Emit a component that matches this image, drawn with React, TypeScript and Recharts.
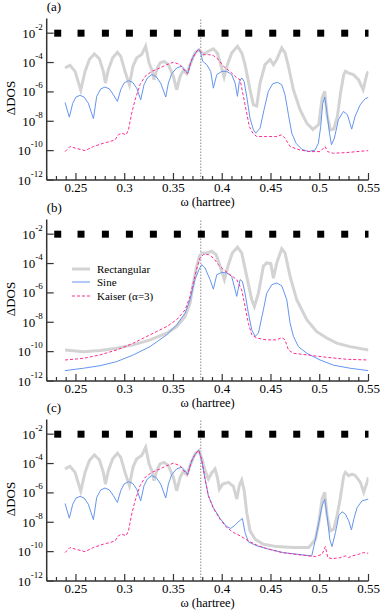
import React from "react"
import { ComposedChart, Line, Scatter, XAxis, YAxis, ReferenceLine, Legend } from "recharts"

type Pt = [number, number]

const X_TICKS = [
  0.22, 0.23, 0.24, 0.25, 0.26, 0.27, 0.28, 0.29, 0.3, 0.31, 0.32, 0.33, 0.34, 0.35, 0.36, 0.37, 0.38,
  0.39, 0.4, 0.41, 0.42, 0.43, 0.44, 0.45, 0.46, 0.47, 0.48, 0.49, 0.5, 0.51, 0.52, 0.53, 0.54, 0.55,
]
const Y_TICKS = [1e-12, 1e-10, 1e-8, 1e-6, 1e-4, 1e-2]
const X_DOMAIN = [0.22, 0.55]
const Y_DOMAIN = [1e-12, 1e-1]

// black squares along the top (sampling frequencies) and the dotted resonance line
const MARK_X = [0.2313, 0.2552, 0.2802, 0.3048, 0.3294, 0.354, 0.3786, 0.4029, 0.4272, 0.4518, 0.4764, 0.501, 0.5256, 0.55]
const MARK_LEVEL = 1e-2
const RESONANCE = 0.378

// left halves are the same in (a) and (c)
const RECT_LEFT: Pt[] = [
  [0.2388, 4.3e-5], [0.2439, 6.5e-5], [0.2491, 2.5e-5], [0.2549, 1.3e-6], [0.2593, 2.5e-5], [0.2638, 1.6e-4],
  [0.2689, 3.9e-4], [0.274, 1.8e-4], [0.2781, 2.5e-5], [0.2802, 4.0e-6], [0.2832, 3.3e-5], [0.2877, 2.1e-4],
  [0.2925, 5.0e-4], [0.2959, 2.7e-4], [0.3003, 2.5e-5], [0.3048, 3.1e-6], [0.3085, 5.6e-5], [0.3123, 2.1e-4],
  [0.3174, 3.5e-4], [0.3215, 1.3e-3], [0.325, 9.4e-5], [0.3277, 3.3e-5], [0.3301, 6.8e-6], [0.3328, 3.3e-5],
  [0.3362, 9.4e-5], [0.3403, 1.2e-4], [0.3448, 7.2e-5], [0.3499, 1.15e-5], [0.3533, 1.4e-6], [0.3568, 1.15e-5],
  [0.3602, 3.0e-5], [0.3636, 1.75e-5], [0.367, 7.2e-5], [0.3721, 4.5e-4], [0.3762, 7.7e-4],
]
const SINE_LEFT: Pt[] = [
  [0.2388, 1.9e-7], [0.2432, 1.9e-8], [0.2467, 1.7e-7], [0.2501, 4.5e-7], [0.2542, 5.8e-7], [0.2583, 4.5e-7],
  [0.2627, 1.7e-7], [0.2679, 1.5e-8], [0.2713, 5.0e-7], [0.2754, 1.6e-6], [0.2798, 2.15e-6], [0.2843, 1.6e-6],
  [0.2884, 6.4e-7], [0.2925, 2.25e-7], [0.2959, 1.4e-6], [0.2993, 4.0e-6], [0.3038, 5.8e-6], [0.3082, 4.5e-6],
  [0.3123, 1.8e-6], [0.3164, 2.9e-7], [0.3198, 3.1e-6], [0.3232, 8.9e-6], [0.3277, 1.5e-5], [0.3321, 1.15e-5],
  [0.3369, 4.0e-6], [0.3421, 4.5e-7], [0.3448, 4.0e-6], [0.3482, 1.75e-5], [0.3533, 4.3e-5], [0.3585, 5.6e-5],
  [0.3619, 3.3e-5], [0.3646, 1.75e-5], [0.367, 7.2e-5], [0.3704, 2.7e-4], [0.3738, 5.9e-4], [0.3762, 7.7e-4],
]
const KAISER_LEFT: Pt[] = [
  [0.2388, 8.6e-11], [0.2439, 1.9e-10], [0.2491, 1.5e-10], [0.2593, 1.0e-10], [0.2679, 1.9e-10], [0.2781, 3.2e-10],
  [0.285, 4.2e-10], [0.2901, 5.4e-10], [0.2935, 1.2e-9], [0.2969, 1.55e-9], [0.3014, 1.2e-9], [0.3038, 2.6e-9],
  [0.3072, 3.6e-8], [0.3106, 2.9e-7], [0.3157, 3.1e-6], [0.3209, 1.15e-5], [0.3277, 2.5e-5], [0.3362, 4.3e-5],
  [0.3431, 7.2e-5], [0.3499, 1.05e-4], [0.3568, 7.2e-5], [0.3619, 2.5e-5], [0.3646, 1.75e-5], [0.3687, 1.6e-4],
  [0.3738, 5.9e-4], [0.3762, 7.7e-4],
]

// (a) right halves
const RECT_RIGHT_A: Pt[] = [
  [0.3807, 3.5e-4], [0.3858, 5.9e-4], [0.3909, 8.5e-4], [0.395, 4.5e-4], [0.3985, 7.2e-5], [0.4019, 1.0e-5],
  [0.4053, 7.2e-5], [0.4097, 4.5e-4], [0.4156, 1.3e-3], [0.42, 4.5e-4], [0.4234, 7.2e-5], [0.4258, 1.15e-5],
  [0.4285, 1.4e-6], [0.432, 1.3e-7], [0.4354, 1.1e-7], [0.4388, 4.0e-6], [0.4439, 7.2e-5], [0.4491, 1.6e-4],
  [0.4525, 7.2e-5], [0.4559, 1.6e-4], [0.461, 1.0e-3], [0.4644, 4.5e-4], [0.4679, 5.6e-5], [0.473, 1.4e-6],
  [0.4798, 6.1e-8], [0.4867, 7.4e-9], [0.493, 2.8e-9], [0.499, 6.0e-9], [0.5024, 3.8e-7], [0.5051, 1.1e-6],
  [0.5075, 2.8e-8], [0.5109, 2.6e-9], [0.5144, 3.0e-9], [0.5181, 2.1e-8], [0.5215, 1.0e-6], [0.5246, 1.5e-5],
  [0.5263, 2.5e-5], [0.5297, 1.9e-5], [0.5345, 1.5e-5], [0.5397, 6.8e-6], [0.5445, 1.4e-6], [0.5482, 1.5e-5],
  [0.5499, 2.5e-5],
]
const SINE_RIGHT_A: Pt[] = [
  [0.3779, 4.5e-4], [0.38, 1.2e-4], [0.3841, 7.2e-5], [0.3882, 2.5e-5], [0.3909, 1.8e-6], [0.3944, 1.5e-5],
  [0.3995, 2.5e-5], [0.4046, 2.5e-5], [0.4097, 1.5e-5], [0.4132, 4.0e-6], [0.4156, 5.0e-7], [0.4176, 5.2e-6],
  [0.42, 8.9e-6], [0.4224, 5.2e-6], [0.4251, 5.0e-7], [0.4285, 1.6e-8], [0.432, 2.6e-9], [0.4344, 1.55e-9],
  [0.4388, 3.4e-9], [0.4429, 6.1e-8], [0.4473, 1.1e-6], [0.4518, 3.6e-6], [0.4566, 4.5e-6], [0.461, 3.1e-6],
  [0.4644, 6.4e-7], [0.4679, 2.8e-8], [0.4713, 1.55e-9], [0.4757, 3.2e-10], [0.4815, 1.25e-10], [0.4884, 8.6e-11],
  [0.4952, 1.1e-10], [0.4986, 3.2e-10], [0.501, 4.4e-9], [0.5031, 1.7e-7], [0.5051, 4.5e-7], [0.507, 6.1e-8],
  [0.51, 1.55e-9], [0.512, 2.5e-10], [0.515, 7.0e-10], [0.5191, 1.26e-8], [0.5243, 4.7e-8], [0.5284, 2.8e-8],
  [0.5328, 2.9e-9], [0.5362, 2.1e-8], [0.5414, 1.3e-7], [0.5465, 3.4e-7], [0.5499, 4.2e-7],
]
const KAISER_RIGHT_A: Pt[] = [
  [0.3807, 3.5e-4], [0.3858, 3.5e-4], [0.3909, 3.0e-4], [0.3961, 1.6e-4], [0.4012, 5.6e-5], [0.408, 2.5e-5],
  [0.4149, 8.9e-6], [0.4183, 6.8e-6], [0.4217, 5.0e-7], [0.4251, 3.6e-8], [0.4278, 4.4e-9], [0.4313, 1.55e-9],
  [0.4354, 9.1e-10], [0.4456, 9.1e-10], [0.4559, 9.1e-10], [0.461, 1.2e-9], [0.4644, 7.0e-10], [0.4696, 1.9e-10],
  [0.4798, 1.1e-10], [0.4901, 8.6e-11], [0.5003, 8.6e-11], [0.5055, 1.9e-10], [0.508, 8.6e-11], [0.514, 6.6e-11],
  [0.5277, 7.4e-11], [0.5379, 8.6e-11], [0.5499, 1.0e-10],
]

// (b)
const RECT_B: Pt[] = [
  [0.2388, 1.3e-10], [0.2576, 1.0e-10], [0.2747, 1.2e-10], [0.2918, 1.7e-10], [0.3089, 2.9e-10], [0.326, 6.3e-10],
  [0.3431, 1.8e-9], [0.3533, 5.1e-9], [0.3619, 2.5e-8], [0.367, 2.0e-7], [0.3704, 4.7e-6], [0.3738, 6.5e-5],
  [0.3766, 3.1e-4], [0.379, 5.3e-4], [0.3841, 5.3e-4], [0.3892, 6.9e-4], [0.3937, 4.1e-4], [0.3978, 6.5e-5],
  [0.4022, 8.0e-6], [0.4063, 8.4e-5], [0.4104, 5.3e-4], [0.4156, 1.3e-3], [0.42, 5.3e-4], [0.4251, 1.35e-5],
  [0.4303, 3.4e-7], [0.433, 1.2e-7], [0.4371, 9.4e-7], [0.4422, 6.5e-5], [0.4456, 1.1e-4], [0.4498, 9.9e-5],
  [0.4525, 1.0e-5], [0.4559, 1.1e-4], [0.461, 1.0e-3], [0.4644, 5.3e-4], [0.4696, 1.35e-5], [0.4764, 3.4e-7],
  [0.4867, 1.5e-8], [0.4969, 2.3e-9], [0.5072, 8.4e-10], [0.5174, 3.8e-10], [0.5311, 2.2e-10], [0.5499, 1.3e-10],
]
const SINE_B: Pt[] = [
  [0.2388, 5.1e-12], [0.2576, 7.4e-12], [0.2747, 1.1e-11], [0.2918, 2.1e-11], [0.3089, 6.0e-11], [0.326, 2.2e-10],
  [0.3431, 1.4e-9], [0.3533, 6.7e-9], [0.3619, 4.2e-8], [0.367, 3.4e-7], [0.3721, 8.0e-6], [0.3762, 3.9e-5],
  [0.379, 8.5e-5], [0.3824, 5.0e-5], [0.3875, 8.0e-6], [0.3909, 1.8e-6], [0.3944, 1.75e-5], [0.3995, 2.5e-5],
  [0.4046, 2.3e-5], [0.4097, 1.35e-5], [0.4149, 5.8e-7], [0.4183, 8.0e-6], [0.4207, 6.1e-6], [0.4234, 9.4e-7],
  [0.4268, 4.2e-8], [0.4303, 3.0e-9], [0.4337, 1.1e-9], [0.4371, 1.8e-9], [0.4422, 7.0e-8], [0.4456, 9.4e-7],
  [0.4508, 3.6e-6], [0.4559, 4.7e-6], [0.461, 3.1e-6], [0.4662, 3.4e-7], [0.4696, 8.6e-9], [0.473, 1.1e-9],
  [0.4781, 2.2e-10], [0.4867, 7.7e-11], [0.5003, 2.7e-11], [0.514, 1.2e-11], [0.5311, 7.4e-12], [0.5499, 5.1e-12],
]
const KAISER_B: Pt[] = [
  [0.2388, 2.7e-11], [0.2576, 3.5e-11], [0.2747, 6.0e-11], [0.2918, 1.3e-10], [0.3089, 3.8e-10], [0.326, 1.4e-9],
  [0.3431, 5.1e-9], [0.3533, 1.5e-8], [0.3619, 7.0e-8], [0.367, 5.8e-7], [0.3711, 8.0e-6], [0.3745, 6.5e-5],
  [0.3773, 2.4e-4], [0.3807, 4.1e-4], [0.3858, 4.1e-4], [0.3909, 2.4e-4], [0.3961, 8.4e-5], [0.4012, 3.9e-5],
  [0.408, 1.75e-5], [0.4115, 1.2e-5], [0.4149, 8.0e-6], [0.42, 1.6e-6], [0.4234, 1.2e-7], [0.4268, 8.6e-9],
  [0.4303, 1.4e-9], [0.4354, 8.4e-10], [0.4456, 6.3e-10], [0.4559, 6.3e-10], [0.461, 9.1e-10], [0.4644, 6.3e-10],
  [0.4679, 1.3e-10], [0.473, 7.7e-11], [0.4867, 6.0e-11], [0.5072, 4.1e-11], [0.5277, 3.0e-11], [0.5499, 2.7e-11],
]

// (c) right halves
const RECT_RIGHT_C: Pt[] = [
  [0.379, 2.3e-4], [0.3824, 3.3e-5], [0.3858, 8.9e-6], [0.3892, 2.3e-5], [0.3926, 4.3e-5], [0.395, 1.15e-5],
  [0.3971, 1.8e-6], [0.4005, 4.0e-6], [0.4063, 5.2e-6], [0.4115, 2.8e-6], [0.4149, 3.8e-7], [0.4176, 3.4e-6],
  [0.42, 7.5e-6], [0.4224, 1.6e-6], [0.4251, 4.7e-8], [0.4285, 2.6e-9], [0.4337, 7.0e-10], [0.4422, 3.2e-10],
  [0.4559, 2.2e-10], [0.473, 1.9e-10], [0.4887, 1.9e-10], [0.4956, 7.0e-10], [0.499, 9.4e-9], [0.5024, 3.8e-7],
  [0.5051, 1.1e-6], [0.5075, 2.8e-8], [0.5109, 2.6e-9], [0.5144, 3.4e-9], [0.5178, 2.8e-8], [0.5212, 5.0e-7],
  [0.5246, 1.5e-5], [0.5263, 2.5e-5], [0.5297, 1.5e-5], [0.5332, 1.9e-5], [0.5366, 1.5e-5], [0.5417, 5.2e-6],
  [0.5451, 1.1e-6], [0.5485, 5.2e-6], [0.5499, 1.15e-5],
]
const SINE_RIGHT_C: Pt[] = [
  [0.379, 1.6e-4], [0.3824, 8.9e-6], [0.3858, 6.4e-7], [0.3909, 1.0e-7], [0.3978, 1.8e-8], [0.4046, 5.1e-9],
  [0.4087, 3.8e-9], [0.4132, 6.4e-9], [0.4176, 1.26e-8], [0.4207, 1.8e-8], [0.4234, 2.0e-9], [0.4268, 4.6e-10],
  [0.4354, 2.5e-10], [0.4456, 1.6e-10], [0.4627, 8.6e-11], [0.4798, 6.3e-11], [0.4918, 5.1e-11], [0.4956, 7.0e-10],
  [0.499, 9.4e-9], [0.5024, 1.3e-7], [0.5051, 3.8e-7], [0.5075, 2.8e-8], [0.5103, 7.0e-10], [0.5126, 2.2e-10],
  [0.5161, 2.0e-9], [0.5195, 2.8e-8], [0.5229, 5.2e-8], [0.5263, 3.6e-8], [0.5297, 1.26e-8], [0.5325, 3.0e-9],
  [0.5349, 1.6e-8], [0.5383, 1.0e-7], [0.5434, 2.9e-7], [0.5499, 3.8e-7],
]
const KAISER_RIGHT_C: Pt[] = [
  [0.379, 1.6e-4], [0.3824, 8.9e-6], [0.3858, 6.4e-7], [0.3909, 8.8e-8], [0.3978, 1.6e-8], [0.4046, 4.4e-9],
  [0.4115, 2.0e-9], [0.4183, 1.2e-9], [0.4268, 5.4e-10], [0.4354, 2.8e-10], [0.4456, 1.6e-10], [0.4614, 8.6e-11],
  [0.4798, 6.0e-11], [0.4956, 4.6e-11], [0.5024, 6.6e-11], [0.5058, 2.2e-10], [0.5082, 3.9e-11], [0.5126, 3.3e-11],
  [0.5212, 3.9e-11], [0.5263, 5.1e-11], [0.5297, 3.9e-11], [0.5332, 5.1e-11], [0.54, 6.6e-11], [0.5451, 8.6e-11],
  [0.5499, 7.7e-11],
]

const AXIS = "#333"
const FONT = "'Liberation Serif', 'DejaVu Serif', serif"
const RECT_COLOR = "#d3d3d3"
const SINE_COLOR = "#6495ed"
const KAISER_COLOR = "#ff2a8f"

const LEGEND = [
  { label: "Rectangular", color: RECT_COLOR, width: 3, dash: undefined },
  { label: "Sine", color: SINE_COLOR, width: 1, dash: undefined },
  { label: "Kaiser (α=3)", color: KAISER_COLOR, width: 1, dash: "3 2" },
]

const rows = (pts: Pt[]) => pts.map(([x, y]) => ({ x, y }))
const marks = MARK_X.map((x) => ({ x, y: MARK_LEVEL }))
const isMajor = (v: number) => Math.abs(v * 20 - Math.round(v * 20)) < 1e-6

function BottomTick({ x, y, payload }: any) {
  const major = isMajor(payload.value)
  return (
    <g>
      <line x1={x} y1={y} x2={x} y2={y - (major ? 7 : 4)} stroke={AXIS} strokeWidth={1.2} />
      {major && (
        <text x={x} y={y + 12} textAnchor="middle" fontSize={13} fontFamily={FONT} fill="#000">
          {String(payload.value)}
        </text>
      )}
    </g>
  )
}

function TopTick({ x, y, payload }: any) {
  const major = isMajor(payload.value)
  return <line x1={x} y1={y} x2={x} y2={y + (major ? 6 : 3)} stroke={AXIS} strokeWidth={1.2} />
}

function LeftTick({ x, y, payload }: any) {
  const exp = Math.round(Math.log10(payload.value))
  return (
    <g>
      <line x1={x} y1={y} x2={x + 7} y2={y} stroke={AXIS} strokeWidth={1.2} />
      <text x={x - 4} y={y + 4.5} textAnchor="end" fontSize={13} fontFamily={FONT} fill="#000">
        <tspan>10</tspan>
        <tspan fontSize={9} dy={-8}>{String(exp)}</tspan>
      </text>
    </g>
  )
}

function RightTick({ x, y }: any) {
  return <line x1={x} y1={y} x2={x - 7} y2={y} stroke={AXIS} strokeWidth={1.2} />
}

function Square({ cx, cy }: any) {
  return <rect x={cx - 3.5} y={cy - 3.5} width={7} height={7} fill="#000" />
}

function LegendBox() {
  return (
    <div style={{ fontFamily: FONT, fontSize: 11, color: "#000", textAlign: "left" }}>
      {LEGEND.map((item) => (
        <div key={item.label} style={{ display: "flex", alignItems: "center", height: 13.5 }}>
          <svg width={18} height={6} style={{ marginRight: 7 }}>
            <line x1={0} y1={3} x2={18} y2={3} stroke={item.color} strokeWidth={item.width} strokeDasharray={item.dash} />
          </svg>
          <span style={{ whiteSpace: "nowrap" }}>{item.label}</span>
        </div>
      ))}
    </div>
  )
}

interface PanelProps {
  top: number
  letter: string
  rect: Pt[]
  sine: Pt[]
  kaiser: Pt[]
  legend?: boolean
}

function Panel({ top, letter, rect, sine, kaiser, legend }: PanelProps) {
  const axisLine = { stroke: AXIS, strokeWidth: 1.5 }
  return (
    <div style={{ position: "absolute", left: 0, top }}>
      <ComposedChart width={382} height={214} margin={{ top: 18.5, right: 13.5, bottom: 14, left: 0 }}>
        <XAxis
          dataKey="x"
          type="number"
          domain={X_DOMAIN}
          allowDataOverflow
          ticks={X_TICKS}
          interval={0}
          height={20}
          tickSize={0}
          tickMargin={0}
          tickLine={false}
          tick={BottomTick}
          axisLine={axisLine}
          label={{
            content: () => (
              <text x={207.6} y={206} textAnchor="middle" fontSize={12.5} fontFamily={FONT} fill="#000">
                ω (hartree)
              </text>
            ),
          }}
        />
        <XAxis
          xAxisId="top"
          orientation="top"
          dataKey="x"
          type="number"
          domain={X_DOMAIN}
          allowDataOverflow
          ticks={X_TICKS}
          interval={0}
          height={0}
          tickSize={0}
          tickMargin={0}
          tickLine={false}
          tick={TopTick}
          axisLine={axisLine}
        />
        <YAxis
          type="number"
          scale="log"
          domain={Y_DOMAIN}
          allowDataOverflow
          ticks={Y_TICKS}
          interval={0}
          width={46.7}
          tickSize={0}
          tickMargin={0}
          tickLine={false}
          tick={LeftTick}
          axisLine={axisLine}
          label={{
            content: () => (
              <g fontFamily={FONT} fill="#000" fontSize={13}>
                <text x={46.7} y={11}>{letter}</text>
                <text x={14.5} y={98} textAnchor="middle" transform="rotate(-90 14.5 98)">ΔDOS</text>
              </g>
            ),
          }}
        />
        <YAxis
          yAxisId="right"
          orientation="right"
          type="number"
          scale="log"
          domain={Y_DOMAIN}
          allowDataOverflow
          ticks={Y_TICKS}
          interval={0}
          width={0}
          tickSize={0}
          tickMargin={0}
          tickLine={false}
          tick={RightTick}
          axisLine={axisLine}
        />
        <ReferenceLine x={RESONANCE} stroke="#8a8a8a" strokeDasharray="1.5 1.5" />
        <Line data={rows(rect)} dataKey="y" name="Rectangular" stroke={RECT_COLOR} strokeWidth={3} dot={false} isAnimationActive={false} />
        <Line data={rows(sine)} dataKey="y" name="Sine" stroke={SINE_COLOR} strokeWidth={1} dot={false} isAnimationActive={false} />
        <Line data={rows(kaiser)} dataKey="y" name="Kaiser (α=3)" stroke={KAISER_COLOR} strokeWidth={1} strokeDasharray="3 2" dot={false} isAnimationActive={false} />
        <Scatter data={marks} dataKey="y" shape={Square} isAnimationActive={false} />
        {legend && (
          <Legend
            content={LegendBox}
            layout="horizontal"
            verticalAlign="middle"
            align="center"
            wrapperStyle={{ left: 72, top: 61, width: 130 }}
          />
        )}
      </ComposedChart>
    </div>
  )
}

export default function App() {
  return (
    <div style={{ position: "absolute", left: 0, top: 0, width: 382, height: 614, overflow: "hidden", background: "#fff" }}>
      <Panel top={0} letter="(a)" rect={[...RECT_LEFT, ...RECT_RIGHT_A]} sine={[...SINE_LEFT, ...SINE_RIGHT_A]} kaiser={[...KAISER_LEFT, ...KAISER_RIGHT_A]} />
      <Panel top={201} letter="(b)" rect={RECT_B} sine={SINE_B} kaiser={KAISER_B} legend />
      <Panel top={401} letter="(c)" rect={[...RECT_LEFT, ...RECT_RIGHT_C]} sine={[...SINE_LEFT, ...SINE_RIGHT_C]} kaiser={[...KAISER_LEFT, ...KAISER_RIGHT_C]} />
    </div>
  )
}
